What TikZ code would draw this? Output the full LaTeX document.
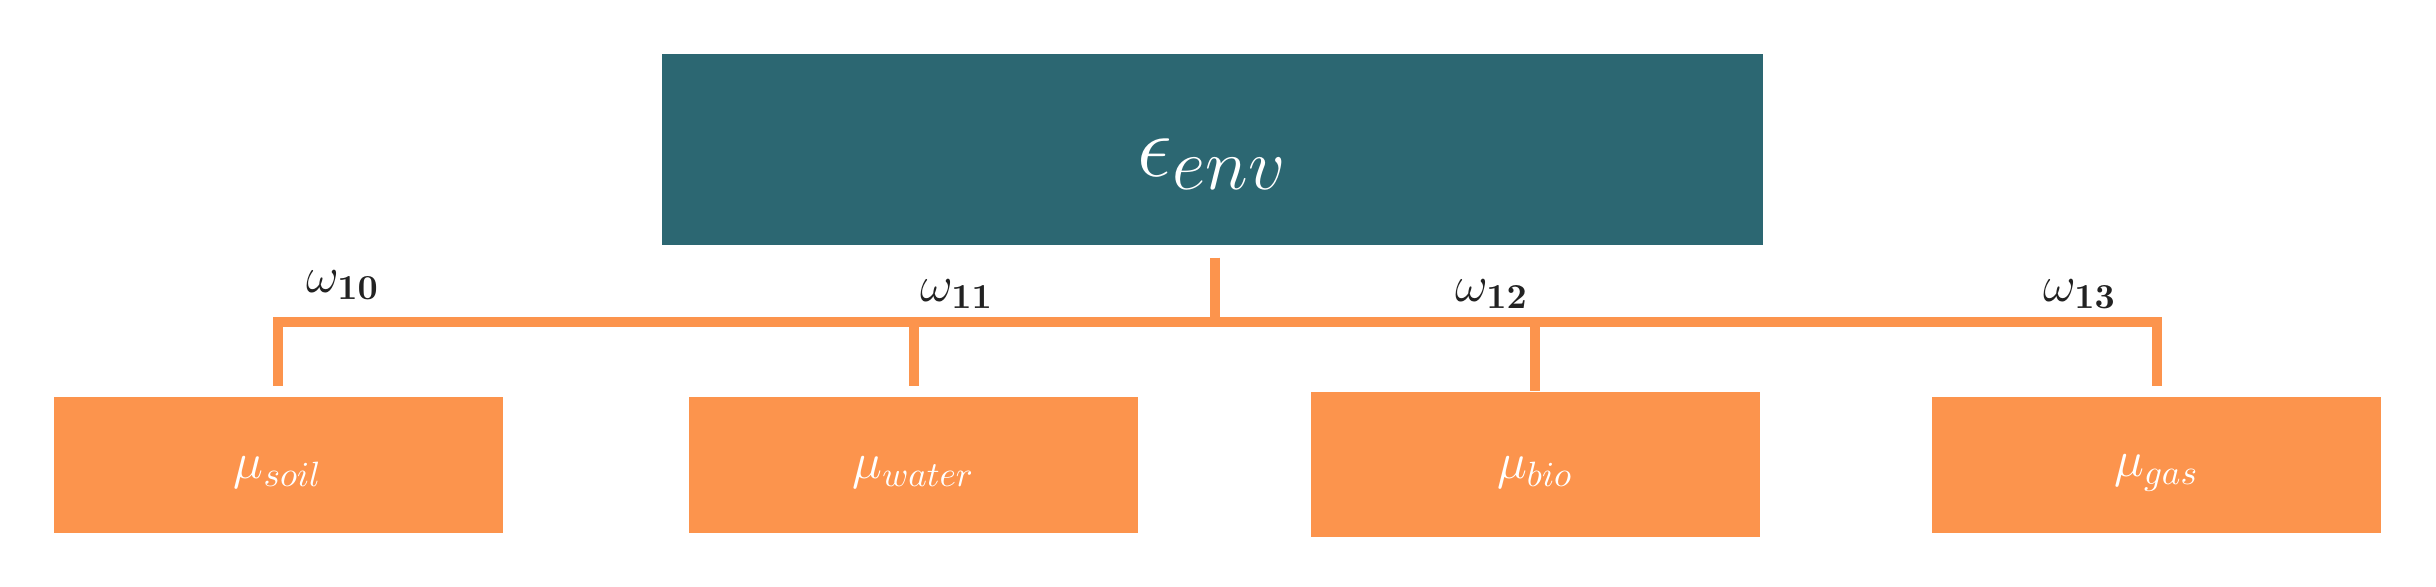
\documentclass[tikz,border=0pt]{standalone}
\usetikzlibrary{positioning}
\definecolor{envteal}{RGB}{44,103,114}
\definecolor{leaforange}{RGB}{252,148,77}
\definecolor{wgray}{RGB}{34,34,34}
\tikzset{
  envbox/.style={fill=envteal,minimum width=11.01cm,minimum height=1.91cm,inner sep=0pt},
  leafbox/.style={fill=leaforange,minimum width=4.49cm,inner sep=0pt},
  link/.style={leaforange,line width=0.1cm},
  wlab/.style={text=wgray,font=\Large}
}
\begin{document}
\begin{tikzpicture}
  \useasboundingbox (0,0) rectangle (24.36,5.87);
  \node[envbox] (env) at (12.125,4.375) {};
  \node[text=white,font=\Huge] (envlab) at ([yshift=-0.15cm]env.center) {$\epsilon_{env}$};
  \coordinate (bar) at ([xshift=0.02cm]env.south |- 0,2.65);
  \draw[link] ([xshift=0.02cm,yshift=-0.12cm]env.south) -- (bar);
  \foreach \n/\x/\y/\h/\g in {soil/2.78/1.22/1.36/0.1,water/9.135/1.22/1.36/0.1,bio/15.35/1.225/1.45/0,gas/21.565/1.22/1.36/0.1}{
    \node[leafbox,minimum height=\h cm,label={[text=white,font=\Large,yshift=-0.08cm]center:$\mu_{\n}$}] (\n) at (\x,\y) {};
    \draw[link] (bar) -| ([yshift=\g cm]\n.north);
  }
  \foreach \i/\x/\y in {10/3.43/3.02,11/9.57/2.93,12/14.92/2.93,13/20.80/2.93}
    \node[wlab] (w\i) at (\x,\y) {$\omega_{\mathbf{\i}}$};
\end{tikzpicture}
\end{document}
